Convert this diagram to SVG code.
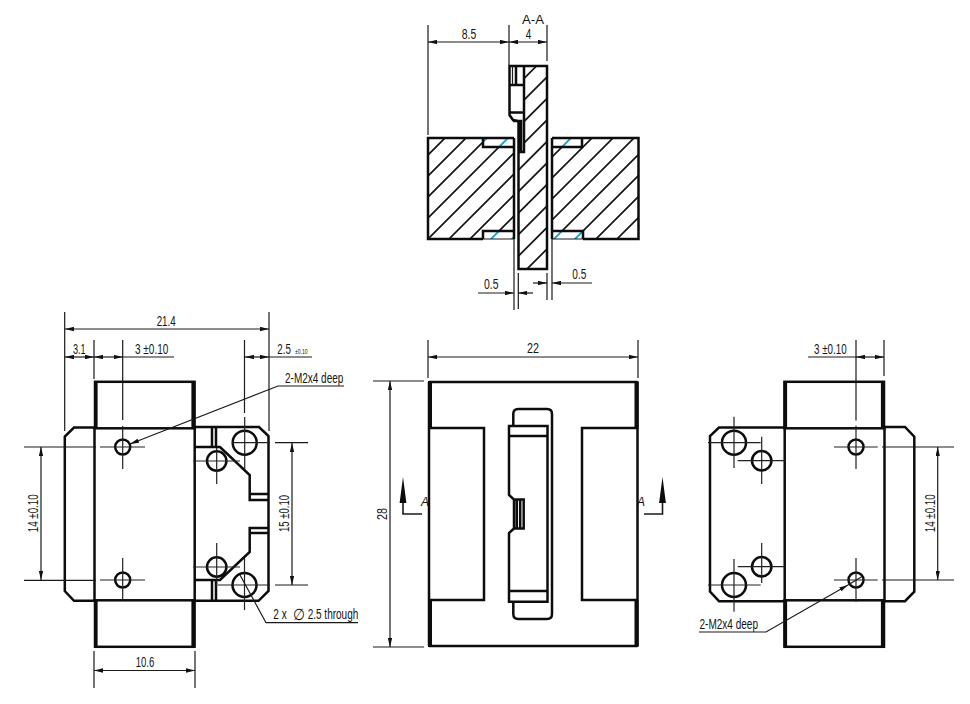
<svg xmlns="http://www.w3.org/2000/svg" width="970" height="704" viewBox="0 0 970 704">
<style>
.o{fill:none;stroke:#0c0c0c;stroke-width:2.5;stroke-linejoin:miter}
.h{fill:none;stroke:#151515;stroke-width:1.7}
.f{fill:#0c0c0c;stroke:none}
.c{fill:none;stroke:#222;stroke-width:1.2}
.d{fill:none;stroke:#1a1a1a;stroke-width:1.2}
.a{marker-start:url(#ar);marker-end:url(#ar)}
.e{marker-end:url(#ar)}
text{font-family:"Liberation Sans",Arial,sans-serif;font-size:15px;fill:#151515}
</style>
<defs>
<marker id="ar" viewBox="0 0 9 4.400" refX="9" refY="2.200" markerWidth="9" markerHeight="4.400" markerUnits="userSpaceOnUse" orient="auto-start-reverse"><path d="M0 0L9 2.200L0 4.400Z" fill="#111"/></marker>
<path id="blockHatch" d="M338 245l115-115M359 245l115-115M380 245l115-115M401 245l115-115M422 245l115-115M443 245l115-115M464 245l115-115M485 245l115-115M506 245l115-115M527 245l115-115M548 245l115-115M569 245l115-115M590 245l115-115M611 245l115-115M632 245l115-115"/>
<clipPath id="blockClip"><path d="M428 138H483V147H514V231H483V239H428ZM552 147H582V138H639V239H583V231H552Z"/></clipPath>
<clipPath id="recessClip"><path d="M483 138H514V147H483ZM552 138H582V147H552ZM483 231H514V239H483ZM552 231H583V239H552Z"/></clipPath>
<clipPath id="plateClip"><path d="M524 66H547V269H518V152H524Z"/></clipPath>
<g id="tab"><rect x="1" y="0.800" width="99.500" height="46.500" class="o"/><rect x="0" y="0" width="3.600" height="47.500" class="f"/><rect x="97.400" y="0" width="4" height="47.500" class="f"/></g>
</defs>
<rect width="970" height="704" fill="#fff"/>

<g id="section-view">
<g clip-path="url(#blockClip)"><use href="#blockHatch" class="h"/></g>
<g clip-path="url(#recessClip)"><use href="#blockHatch" fill="none" stroke="#12a6d2" stroke-width="1.900"/></g>
<path class="h" clip-path="url(#plateClip)" d="M516 280l220-220M494.500 280l220-220M473 280l220-220M451.500 280l220-220M430 280l220-220M408.500 280l220-220M387 280l220-220M365.500 280l220-220M344 280l220-220M322.500 280l220-220"/>
<path class="o" d="M514 138H428V239H483M483 138V147H514M514 138V239M483 239V231H514"/>
<path class="o" d="M552 138H638.500V239H583M582 138V147H552M552 138V239M583 239V231H552"/>
<path class="d" d="M483 239H514M552 239H583"/>
<path class="o" d="M524 66H547V269H518.500V121L513 120L509.500 115V66H524V152H521V121H513M509.500 85H524M509.500 112.500H524M516 66V85"/>
<path class="d" d="M512.500 66V85"/>
</g>

<g id="left-view">
<use href="#tab" x="94" y="381"/>
<use href="#tab" x="94" y="599.500"/>
<path class="o" d="M94.500 427.500H74L64.800 436.500V591L74 600.800H94.500M94.500 427.500V600.800M194.700 427.500V600.800M194.700 427H259L268.500 436V591L258.500 600.800H194.700"/>
<path class="o" d="M195 447H220L249.700 475V500H268.500M250 494H268.500M195 580H220L249.700 552V528H268.500M250 533H268.500M212 427V447M216 427V447M212 580V600.800M216 580V600.800"/>
<circle cx="122.700" cy="447" r="7.500" class="o"/>
<circle cx="122.700" cy="580" r="7.500" class="o"/>
<circle cx="244.700" cy="442.700" r="12" class="o"/>
<circle cx="216.700" cy="461" r="9.700" class="o"/>
<circle cx="244.500" cy="585" r="12" class="o"/>
<circle cx="216.700" cy="567" r="9.700" class="o"/>
<path class="c" d="M100 447H145M122.700 426V469M100 580H145M122.700 558V601M232 442.700H270M244.700 417V470M193 461H240M216.700 448V484M218 585H270M244.500 558V610M193 567H240M216.700 543V586"/>
</g>

<g id="front-view">
<path class="o" d="M429 382H637.500M429 646H637.500M429 382V646M637.500 382V646"/>
<rect x="428" y="381" width="4" height="47.500" class="f"/><rect x="634.500" y="381" width="4" height="47.500" class="f"/>
<rect x="428" y="599.500" width="4" height="47.500" class="f"/><rect x="634.500" y="599.500" width="4" height="47.500" class="f"/>
<path class="o" d="M429 428H484V600H429M637.500 428H582V600H637.500"/>
<path class="o" d="M513.300 426V414Q513.300 409 518.300 409H547Q552 409 552 414V614Q552 619 547 619H518.300Q513.300 619 513.300 614V601.700"/>
<path class="o" d="M509 426H547.500V601.700H509V533L514 528.500V499.500L509 495ZM509 436H547.500M509 591H547.500M514 499.500H523.700V528.500H514M516.800 499.500V528.500M520.200 499.500V528.500"/>
</g>

<g id="right-view">
<use href="#tab" x="783.500" y="381"/>
<use href="#tab" x="783.500" y="599.500"/>
<path class="o" d="M784.700 427.500H719L710 436V591.500L719 601.200H784.700M784.700 427.500V601.200M884.500 427.500V601.200M884.500 427H905L914.300 436.700V591.700L905 601.200H884.500"/>
<circle cx="856" cy="447" r="7.500" class="o"/>
<circle cx="856" cy="580" r="7.500" class="o"/>
<circle cx="734" cy="442.700" r="12" class="o"/>
<circle cx="761.700" cy="460.700" r="9.700" class="o"/>
<circle cx="761.700" cy="566.700" r="9.700" class="o"/>
<circle cx="734" cy="585" r="12" class="o"/>
<path class="c" d="M834 447H877.700M856 425.700V469M834 580H877.700M856 558V601.700M708 442.700H760.700M734 416.700V468M737.700 460.700H785.700M761.700 436.700V484M737.700 566.700H785.700M761.700 543V583M708 585H760.700M734 559V611.700"/>
</g>

<g id="dimensions">
<path class="d" d="M428 25V135M509 25V65M547 25V61M514 239V310M518.300 273V309M547 273V300M552 239V300"/>
<path class="d a" d="M428 42H509"/><path class="d a" d="M509 42H547"/>
<path class="d e" d="M478 293H514"/><path class="d e" d="M533 293H518.300"/>
<path class="d e" d="M533 283H547"/><path class="d e" d="M592 283H552"/>
<path class="d" d="M64.700 312V431M269 312V431M94 340V379M122.700 340V420M244.500 340V413M94 651V688M195 651V688M24 447H96M24 580.300H96M275 442.700H308M275 585H308"/>
<path class="d a" d="M65 329H269"/>
<path class="d a" d="M65 357H94"/><path class="d a" d="M94 357H122.700"/><path class="d" d="M122.700 357H174"/>
<path class="d a" d="M245 357H269"/><path class="d" d="M269 357H312"/>
<path class="d a" d="M41 447V580"/>
<path class="d a" d="M292 443V585"/>
<path class="d a" d="M94 670.500H195"/>
<path class="d e" d="M344 386H278L130 444"/>
<path class="d" d="M358 622.700H266L240 575"/>
<path class="d" d="M428 340V378M638 340V378M373 381H424M373 647H424"/>
<path class="d a" d="M428 357H638"/>
<path class="d a" d="M390 381V647"/>
<path class="d" style="stroke-width:1.600" d="M403 503V514H422M662.500 503V514H644"/>
<path class="f" d="M403 477L406.400 503H399.600ZM662.500 477L665.900 503H659.100Z"/>
<path class="d" d="M856 340V420.500M884 340V376M882 447H954M882 580H954"/>
<path class="d a" d="M856 357H884"/><path class="d" d="M808 357H856"/>
<path class="d a" d="M937.700 447V580"/>
<path class="d e" d="M699 632H766L848 585"/><path class="d" d="M848 585L861.700 576.700"/>
</g>

<g id="labels">
<text x="522" y="24" textLength="22" lengthAdjust="spacingAndGlyphs" style="font-size:13px">A-A</text>
<text x="461.700" y="39" textLength="14.500" lengthAdjust="spacingAndGlyphs">8.5</text>
<text x="525.700" y="39" textLength="5.500" lengthAdjust="spacingAndGlyphs" style="font-size:14px">4</text>
<text x="484" y="289.300" textLength="14.500" lengthAdjust="spacingAndGlyphs">0.5</text>
<text x="572.300" y="279.300" textLength="14" lengthAdjust="spacingAndGlyphs">0.5</text>
<text x="156.700" y="325.500" textLength="19" lengthAdjust="spacingAndGlyphs">21.4</text>
<text x="73" y="354" textLength="12.700" lengthAdjust="spacingAndGlyphs">3.1</text>
<text x="135" y="354" textLength="33.300" lengthAdjust="spacingAndGlyphs">3 ±0.10</text>
<text transform="translate(277.300 354) scale(.65 1)">2.5</text>
<text x="295" y="354" textLength="12.700" lengthAdjust="spacingAndGlyphs" style="font-size:6.500px">±0.10</text>
<text x="285" y="382.700" textLength="58.300" lengthAdjust="spacingAndGlyphs">2-M2x4 deep</text>
<text x="273.300" y="619.300" textLength="13.400" lengthAdjust="spacingAndGlyphs">2 x</text>
<text x="293" y="620" textLength="12" lengthAdjust="spacingAndGlyphs" style="font-size:16px">∅</text>
<text x="307.700" y="619.300" textLength="50.600" lengthAdjust="spacingAndGlyphs">2.5 through</text>
<text transform="translate(37.500 532.300) rotate(-90)" textLength="38" lengthAdjust="spacingAndGlyphs">14 ±0.10</text>
<text transform="translate(289 532) rotate(-90)" textLength="37" lengthAdjust="spacingAndGlyphs">15 ±0.10</text>
<text x="135.700" y="667.300" textLength="18.600" lengthAdjust="spacingAndGlyphs">10.6</text>
<text x="527" y="353" textLength="12" lengthAdjust="spacingAndGlyphs">22</text>
<text transform="translate(387 520) rotate(-90)" textLength="12" lengthAdjust="spacingAndGlyphs">28</text>
<text x="421" y="506" style="font-size:12px;font-style:italic">A</text>
<text x="637" y="505.700" style="font-size:12px;font-style:italic">A</text>
<text x="814" y="354" textLength="32.700" lengthAdjust="spacingAndGlyphs">3 ±0.10</text>
<text transform="translate(935 532.300) rotate(-90)" textLength="38" lengthAdjust="spacingAndGlyphs">14 ±0.10</text>
<text x="699.500" y="629" textLength="58.500" lengthAdjust="spacingAndGlyphs">2-M2x4 deep</text>
</g>
</svg>
